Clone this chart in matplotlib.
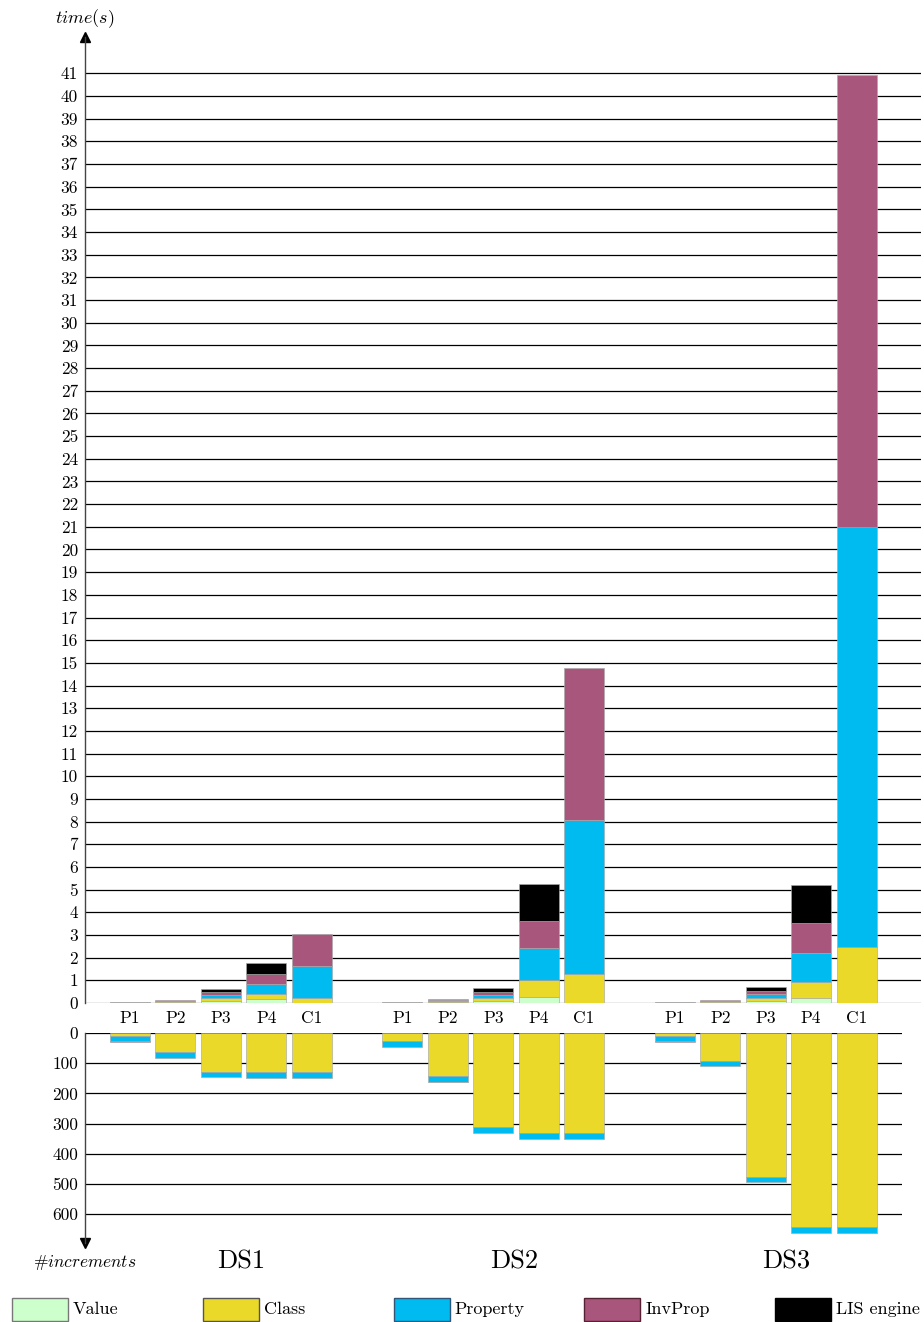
import matplotlib
matplotlib.use("Agg")
import matplotlib.pyplot as plt
from matplotlib.patches import Rectangle
import numpy as np

# ---------------- data ----------------
datasets = ["DS1", "DS2", "DS3"]
queries = ["P1", "P2", "P3", "P4", "C1"]

series_names = ["Value", "Class", "Property", "InvProp", "LIS engine"]
series_colors = ["#CCFFCC", "#EAD928", "#00BBEF", "#A9567D", "#000000"]
legend_edges = ["#777777", "#555555", "#335577", "#552233", "#000000"]

# time (s), order: DS1 P1..C1, DS2 P1..C1, DS3 P1..C1
time_value = [0.03, 0.05, 0.08, 0.18, 0.02, 0.03, 0.06, 0.10, 0.28, 0.00, 0.03, 0.04, 0.09, 0.24, 0.00]
time_class = [0.01, 0.02, 0.12, 0.22, 0.18, 0.01, 0.04, 0.10, 0.73, 1.29, 0.01, 0.03, 0.12, 0.69, 2.49]
time_property = [0.01, 0.02, 0.15, 0.44, 1.42, 0.01, 0.03, 0.15, 1.42, 6.78, 0.01, 0.02, 0.18, 1.29, 18.51]
time_invprop = [0.00, 0.03, 0.12, 0.43, 1.42, 0.00, 0.04, 0.15, 1.20, 6.71, 0.00, 0.03, 0.13, 1.31, 19.92]
time_lis = [0.00, 0.00, 0.15, 0.51, 0.00, 0.00, 0.00, 0.18, 1.63, 0.00, 0.00, 0.00, 0.18, 1.69, 0.00]

# number of increments
inc_value = [0, 0, 0, 0, 0, 0, 0, 0, 0, 0, 0, 0, 0, 0, 0]
inc_class = [9, 62, 128, 130, 130, 28, 142, 313, 331, 331, 9, 92, 476, 643, 643]
inc_property = [19, 20, 19, 20, 20, 20, 19, 20, 21, 21, 19, 19, 18, 19, 19]
inc_invprop = [1, 0, 0, 0, 0, 0, 1, 0, 0, 0, 1, 0, 0, 0, 1]
inc_lis = [0, 0, 0, 0, 0, 0, 0, 0, 0, 0, 0, 0, 0, 0, 0]

time_ticks = list(range(0, 42))
inc_ticks = [0, 100, 200, 300, 400, 500, 600]

# ---------------- style ----------------
plt.rcParams["font.family"] = ["cmr10", "DejaVu Serif"]
plt.rcParams["mathtext.fontset"] = "cm"
plt.rcParams["axes.formatter.use_mathtext"] = True

W, H = 924, 1322
fig = plt.figure(figsize=(W / 100, H / 100), dpi=100)

def fr(x0, y0, x1, y1):
    # pixel box -> figure fraction [left, bottom, width, height]
    return [x0 / W, 1 - y1 / H, (x1 - x0) / W, (y1 - y0) / H]

x_left = -0.991
ax_t = fig.add_axes(fr(85, 37, 921, 1003))
ax_b = fig.add_axes(fr(85, 1033, 902, 1243))

positions = [g * 6 + i for g in range(len(datasets)) for i in range(len(queries))]
bar_w = 0.88
edge = "#a8a8a8"

def stacked(ax, series):
    bottom = np.zeros(len(positions))
    for vals, col in zip(series, series_colors):
        vals = np.asarray(vals, dtype=float)
        lws = [0.45 if v > 0 else 0 for v in vals]
        ax.bar(positions, vals, bar_w, bottom=bottom, color=col,
               edgecolor=edge, linewidth=lws, zorder=3)
        bottom += vals

stacked(ax_t, [time_value, time_class, time_property, time_invprop, time_lis])
stacked(ax_b, [inc_value, inc_class, inc_property, inc_invprop, inc_lis])

# top axes
ax_t.set_xlim(x_left, 17.42)
ax_t.set_ylim(0, 42.6)
for t in time_ticks:
    ax_t.axhline(t, color="black" if t else "#666666", lw=0.9, zorder=1)
ax_t.set_yticks(time_ticks)
ax_t.set_yticklabels([str(t) for t in time_ticks], fontsize=12.5)
ax_t.set_xticks([])
ax_t.tick_params(axis="y", length=0, pad=5)
for s in ["top", "right", "bottom"]:
    ax_t.spines[s].set_visible(False)
ax_t.spines["left"].set_color("#444444")
ax_t.spines["left"].set_linewidth(1.0)
ax_t.plot([0], [1], marker="^", color="black", markersize=6.5,
          transform=ax_t.transAxes, clip_on=False)

for p, q in zip(positions, queries * len(datasets)):
    ax_t.text(p, -0.66, q, ha="center", va="center", fontsize=12.5, clip_on=False)

# bottom axes
ax_b.set_xlim(x_left, 17.0)
ax_b.set_ylim(696, 0)
for t in inc_ticks:
    ax_b.axhline(t, color="black", lw=0.9, zorder=1)
ax_b.set_yticks(inc_ticks)
ax_b.set_yticklabels([str(t) for t in inc_ticks], fontsize=12.5)
ax_b.set_xticks([])
ax_b.tick_params(axis="y", length=0, pad=5)
for s in ["top", "right", "bottom"]:
    ax_b.spines[s].set_visible(False)
ax_b.spines["left"].set_color("#444444")
ax_b.spines["left"].set_linewidth(1.0)
ax_b.plot([0], [0], marker="v", color="black", markersize=6.5,
          transform=ax_b.transAxes, clip_on=False)

# axis titles
fig.text(85 / W, 1 - 19 / H, r"$time(s)$", ha="center", va="center", fontsize=13)
fig.text(85 / W, 1 - 1262 / H, r"#$increments$", ha="center", va="center", fontsize=12.5)

# dataset labels
for g, ds in enumerate(datasets):
    xpix = ax_t.transData.transform((g * 6 + 2.45, 0))[0]
    fig.text(xpix / W, 1 - 1262 / H, ds, ha="center", va="center", fontsize=19)

# legend
for i, (name, col, ec) in enumerate(zip(series_names, series_colors, legend_edges)):
    x0 = 12 + i * 190.75
    fig.patches.append(Rectangle((x0 / W, 1 - 1321 / H), 56 / W, 23 / H,
                                 transform=fig.transFigure, facecolor=col,
                                 edgecolor=ec, linewidth=1.0))
    fig.text((x0 + 61) / W, 1 - 1309 / H, name, ha="left", va="center", fontsize=13)

fig.savefig("out.png", dpi=100)
